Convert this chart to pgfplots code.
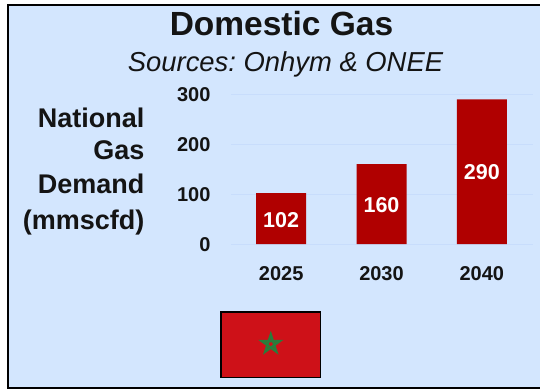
\documentclass[border=0pt]{standalone}
\usepackage{pgfplots}
\pgfplotsset{compat=1.18}
\usepackage{fontspec}
\setmainfont{Liberation Sans}
\definecolor{panel}{RGB}{211,230,254}
\definecolor{barred}{RGB}{176,0,0}
\definecolor{gridb}{RGB}{200,221,252}
\definecolor{flagred}{RGB}{206,17,24}
\definecolor{flaggreen}{RGB}{40,125,60}
\definecolor{ink}{RGB}{20,20,20}
\pgfplotstableread{
pos value mid
0 102 48
1 160 78
2 290 144
}\demand
\begin{document}
\frenchspacing
\begin{tikzpicture}[x=1pt,y=1pt]
\path[use as bounding box] (0,0) rectangle (540,389);
\fill[white] (0,0) rectangle (540,389);
\draw[fill=panel,draw=black,line width=1.7pt] (8.2,1) rectangle (545,384.2);
\begin{axis}[
  at={(231pt,145pt)},anchor=south west,
  scale only axis,width=302pt,height=149.7pt,
  xmin=-0.5,xmax=2.51,ymin=0,ymax=300,
  axis line style={draw=none},
  xtick={0,1,2},xticklabels={2025,2030,2040},
  ytick={0,100,200,300},
  ymajorgrids,
  grid style={gridb,line width=1pt},
  major tick length=0pt,
  /pgf/number format/assume math mode=true,
  tick label style={font=\bfseries\fontsize{20}{24}\selectfont,text=ink},
  xticklabel style={yshift=-18.5pt},
  yticklabel style={xshift=-17pt,yshift=-0.6pt},
  clip=false,
]
\addplot[ybar,bar width=50pt,fill=barred,draw=none] table[x=pos,y=value] {\demand};
\addplot[draw=none,mark=none,forget plot,
  point meta=explicit,
  nodes near coords,
  nodes near coords style={font=\bfseries\fontsize{21.5}{25}\selectfont,text=white,anchor=center,
    /pgf/number format/assume math mode=true},
] table[x=pos,y=mid,meta=value] {\demand};
\end{axis}
\node[font=\bfseries\fontsize{33.5}{38}\selectfont,text=ink] at (281.5,365.5) {Domestic Gas};
\node[font=\itshape\fontsize{27.4}{32}\selectfont,text=ink] at (285.5,325) {Sources: Onhym \& ONEE};
\node[font=\bfseries\fontsize{27}{32}\selectfont,text=ink,anchor=east] at (148,271) {National};
\node[font=\bfseries\fontsize{27}{32}\selectfont,text=ink,anchor=east] at (148,239) {Gas};
\node[font=\bfseries\fontsize{27}{32}\selectfont,text=ink,anchor=east] at (148,205) {Demand};
\node[font=\bfseries\fontsize{27}{32}\selectfont,text=ink,anchor=east] at (148,166.5) {(mmscfd)};
\draw[fill=flagred,draw=black,line width=1.2pt] (221,11.5) rectangle (320.8,77);
\draw[flaggreen,line width=2.3pt,line join=miter]
  (270.8,54.5) -- (276.4,37.3) -- (261.8,47.9) -- (279.8,47.9) -- (265.2,37.3) -- cycle;
\end{tikzpicture}
\end{document}
